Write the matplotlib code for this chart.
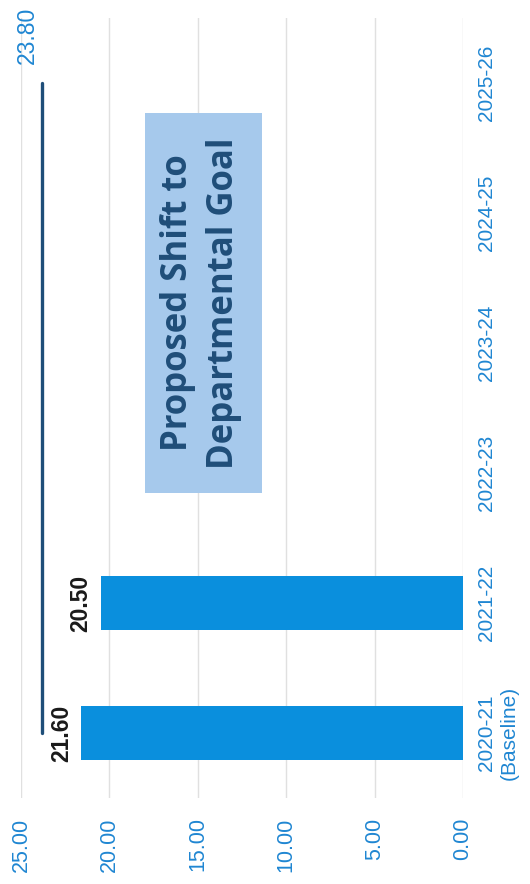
import matplotlib
matplotlib.use("Agg")
import matplotlib.pyplot as plt
from matplotlib.patches import Rectangle

# Data
categories = ["2020-21\n(Baseline)", "2021-22", "2022-23", "2023-24", "2024-25", "2025-26"]
actual = [21.60, 20.50]
goal = [23.80] * len(categories)
value_ticks = [0, 5, 10, 15, 20, 25]

BAR = "#0A8FDD"
TICK = "#1F86D2"
NAVY = "#1F4E79"
BOX = "#A6C9EC"
GRID = "#E0E0E0"

W, H = 530, 884
fig = plt.figure(figsize=(W / 100, H / 100), dpi=100)
fig.patch.set_facecolor("white")

left_px, right_px, top_px, bottom_px = 21, 463, 18, 798
ax = fig.add_axes([left_px / W, 1 - bottom_px / H,
                   (right_px - left_px) / W, (bottom_px - top_px) / H])

pos = list(range(len(categories)))

# Bars (value axis runs right-to-left, categories bottom-to-top)
ax.barh(pos[:len(actual)], actual, height=0.41, color=BAR, zorder=2)

# Goal line
ax.plot(goal, pos, color=NAVY, lw=2.4, solid_capstyle="round", zorder=3)

ax.set_xlim(25, 0)
ax.set_ylim(-0.5, len(categories) - 0.5)

ax.set_xticks(value_ticks)
ax.set_xticklabels([f"{v:.2f}" for v in value_ticks], rotation=90,
                   color=TICK, fontsize=15.5, family="Liberation Sans",
                   va="top", ha="center")
ax.tick_params(axis="x", length=0, pad=14)

ax.yaxis.tick_right()
ax.set_yticks(pos)
ax.set_yticklabels(categories, rotation=90, color=TICK, fontsize=15,
                   family="Liberation Sans", va="center", ha="left",
                   multialignment="center", linespacing=1.25)
ax.tick_params(axis="y", length=0, pad=10)

ax.grid(axis="x", color=GRID, lw=1, zorder=0)
ax.grid(axis="y", visible=False)
for s in ax.spines.values():
    s.set_visible(False)

# Value labels on bars
for p, v in zip(pos, actual):
    ax.annotate(f"{v:.2f}", (v, p), xytext=(-6, 0), textcoords="offset points",
                rotation=90, ha="right", va="center", fontsize=16.5,
                fontweight="bold", color="#1A1A1A", family="Liberation Sans")

# Goal label at the end of the line
ax.annotate(f"{goal[-1]:.2f}", (goal[-1], pos[-1]), xytext=(-11, 34),
            textcoords="offset points", rotation=90, ha="center", va="center",
            fontsize=16.5, color=TICK, family="Liberation Sans")

# Callout box
bx0, bx1 = (145 - left_px) / (right_px - left_px), (262 - left_px) / (right_px - left_px)
by0, by1 = (bottom_px - 493) / (bottom_px - top_px), (bottom_px - 113) / (bottom_px - top_px)
ax.add_patch(Rectangle((bx0, by0), bx1 - bx0, by1 - by0, transform=ax.transAxes,
                       facecolor=BOX, edgecolor="none", zorder=4))
ax.text((bx0 + bx1) / 2 - 0.005, (by0 + by1) / 2, "Proposed Shift to\nDepartmental Goal",
        transform=ax.transAxes, rotation=90, ha="center", va="center",
        multialignment="center", fontsize=25, fontweight="bold", color=NAVY,
        family="Open Sans", linespacing=1.38, zorder=5)

fig.savefig("out.png", dpi=100)
